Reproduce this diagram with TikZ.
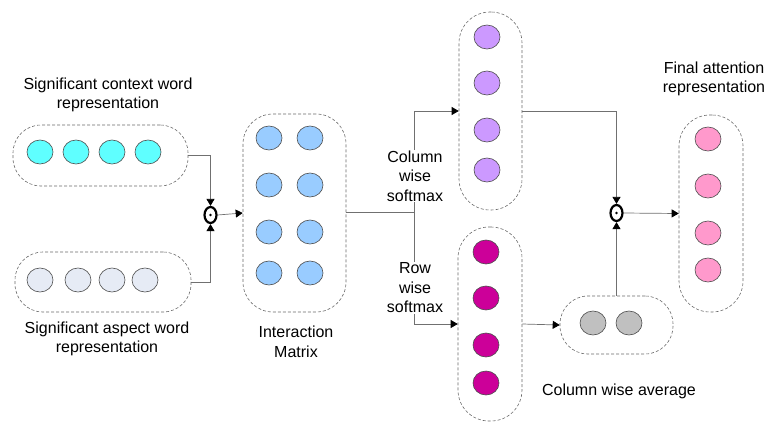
\documentclass[tikz,border=0pt]{standalone}
\usepackage{fontspec}
\setmainfont{Liberation Sans}
\usetikzlibrary{shapes.geometric,arrows.meta}
\definecolor{cctx}{HTML}{5FFFFF}
\definecolor{casp}{HTML}{E6EBF5}
\definecolor{cmat}{HTML}{99CCFF}
\definecolor{ccol}{HTML}{CC99FF}
\definecolor{crow}{HTML}{CC0099}
\definecolor{cavg}{HTML}{C0C0C0}
\definecolor{cfin}{HTML}{FF99CC}
\definecolor{lgray}{HTML}{707070}
\definecolor{bgray}{HTML}{6A6A6A}
\begin{document}
\begin{tikzpicture}[x=1pt,y=-1pt,
  dbox/.style={draw=bgray,dashed,dash pattern=on 3pt off 2pt,line width=0.6pt,rounded corners=28pt,inner sep=0pt},
  blob/.style={ellipse,draw=black!70,line width=0.6pt,inner sep=0pt,minimum width=26pt,minimum height=24pt},
  odot/.style={ellipse,draw=black,line width=2.2pt,inner sep=0pt,minimum width=12pt,minimum height=16pt},
  conn/.style={draw=lgray,line width=0.7pt},
  arr/.style={conn,-{Triangle[length=7pt,width=8pt,color=black]}},
  lab/.style={font=\fontsize{16}{19.5}\selectfont,align=center,inner sep=1pt},
  wlab/.style={lab,fill=white}]
\useasboundingbox (0,0) rectangle (767,423);
% boxes
\node[dbox,minimum width=175pt,minimum height=61pt] (ctx) at (100.5,155.5) {};
\node[dbox,minimum width=176pt,minimum height=60pt] (asp) at (103,282) {};
\node[dbox,minimum width=103pt,minimum height=198pt,rounded corners=30pt] (mat) at (294.5,213) {};
\node[dbox,minimum width=63pt,minimum height=198pt,rounded corners=31pt] (col) at (490.5,111) {};
\node[dbox,minimum width=64pt,minimum height=194pt,rounded corners=31pt] (row) at (490,324) {};
\node[dbox,minimum width=113pt,minimum height=58pt,rounded corners=28pt] (avg) at (616.5,325) {};
\node[dbox,minimum width=64pt,minimum height=197pt,rounded corners=31pt] (fin) at (711,213.5) {};
% circles
\foreach \x [count=\i] in {40,76,112,148} \node[blob,fill=cctx] (c\i) at (\x,152) {};
\foreach \x [count=\i] in {40,78,112,145} \node[blob,fill=casp] (a\i) at (\x,280) {};
\foreach \y [count=\i] in {138,185,232,273} {
  \node[blob,fill=cmat] (m\i l) at (269,\y) {};
  \node[blob,fill=cmat] (m\i r) at (310,\y) {};
}
\foreach \y [count=\i] in {37,83,130,170} \node[blob,fill=ccol] (k\i) at (487,\y) {};
\foreach \y [count=\i] in {252,298,345,383} \node[blob,fill=crow] (r\i) at (486,\y) {};
\node[blob,fill=cavg] (g1) at (593,323) {};
\node[blob,fill=cavg] (g2) at (629,323) {};
\foreach \y [count=\i] in {139,186,233,270} \node[blob,fill=cfin] (f\i) at (708,\y) {};
% odot operators
\node[odot] (o1) at (210.5,215) {};
\fill (o1) circle (1.4pt);
\node[odot] (o2) at (616.5,213) {};
\fill (o2) circle (1.4pt);
% connectors
\draw[arr] (ctx.east) -| (o1.north);
\draw[arr] (asp.east) -| (o1.south);
\draw[arr] (o1.east) -- (mat.west);
\coordinate (sp) at (414,212);
\draw[conn] (mat.east |- sp) -- (sp);
\draw[arr] (sp) |- (col.west);
\draw[arr] (sp) |- (row.west);
\draw[arr] (col.east) -| (o2.north);
\draw[arr] (row.east) -- (avg.west);
\draw[arr] (avg.north) -- (o2.south);
\draw[arr] (o2.east) -- (fin.west);
% labels
\node[lab] (tctx) at (108,95) {Significant context word\\representation};
\node[lab] (tasp) at (107,339) {Significant aspect word\\representation};
\node[lab] (tmat) at (296,342) {Interaction\\Matrix};
\node[wlab] (tcol) at (415,176) {Column\\wise\\softmax};
\node[wlab] (trow) at (415,288) {Row\\wise\\softmax};
\node[lab] (tavg) at (619,391) {Column wise average};
\node[lab] (tfin) at (714,79) {Final attention\\representation};
\end{tikzpicture}
\end{document}
